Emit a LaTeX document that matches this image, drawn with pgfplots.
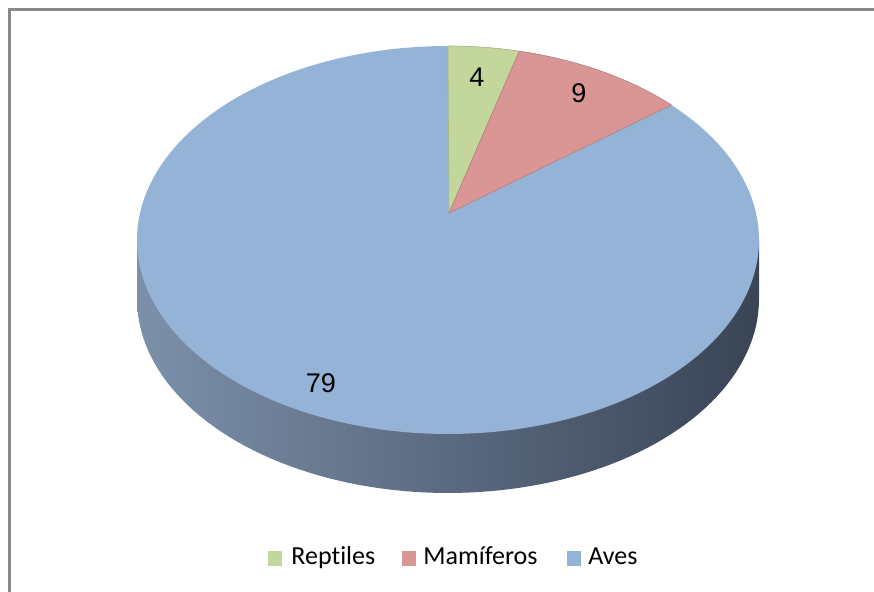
\documentclass[border=0pt]{standalone}
\usepackage{pgfplots}
\pgfplotsset{compat=1.18}
\usepackage{pgfplotstable}
\usepackage{fontspec}
\setmainfont{Carlito}[Ligatures=NoCommon]
\newfontfamily\arial{Liberation Sans}
\definecolor{rep}{HTML}{C3D69B}
\definecolor{mam}{HTML}{D99694}
\definecolor{ave}{HTML}{95B3D7}
\definecolor{framec}{HTML}{8A8A8A}
\definecolor{sideL}{HTML}{7D90AA}
\definecolor{sideM}{HTML}{48556A}
\definecolor{sideR}{HTML}{394455}

\pgfplotstableread{
label value
Reptiles 4
Mamíferos 9
Aves 79
}\piedata

\begin{document}
\begin{tikzpicture}
\pgfplotstablegetelem{0}{value}\of\piedata \pgfmathsetmacro\va{\pgfplotsretval}
\pgfplotstablegetelem{1}{value}\of\piedata \pgfmathsetmacro\vb{\pgfplotsretval}
\pgfplotstablegetelem{2}{value}\of\piedata \pgfmathsetmacro\vc{\pgfplotsretval}
\pgfmathsetmacro\tot{\va+\vb+\vc}
\pgfmathsetmacro\thA{90-360*\va/\tot}
\pgfmathsetmacro\thB{\thA-360*\vb/\tot}
\pgfmathsetmacro\tA{atan2(sin(\thA),0.84*cos(\thA))}
\pgfmathsetmacro\tB{atan2(sin(\thB),0.84*cos(\thB))}
\useasboundingbox (0,0) rectangle (437pt,296pt);
\begin{axis}[at={(0,0)}, anchor=south west, scale only axis,
  width=437pt, height=296pt,
  xmin=0, xmax=874, ymin=0, ymax=592, y dir=reverse,
  hide axis, clip=false]
% frame
\draw[framec, line width=1.3pt] (axis cs:9.5,592) -- (axis cs:9.5,9.5) -- (axis cs:874,9.5);
% side of cylinder
\addplot[draw=none, left color=sideL, middle color=sideM, right color=sideR,
  domain=0:360, samples=180, variable=\t]
  ({448+311*cos(t)},{299-194*sin(t)}) -- cycle
  (axis cs:137,240) rectangle (axis cs:759,299);
% top face (Aves)
\addplot[fill=ave, draw=none, domain=0:360, samples=240, variable=\t]
  ({448+311*cos(t)},{240-194*sin(t)}) -- cycle;
% Reptiles
\addplot[fill=rep, draw=rep!85!black, line width=0.3pt, domain=\tA:90, samples=40, variable=\t]
  ({448+311*cos(t)},{240-194*sin(t)}) -- (axis cs:449,213) -- cycle;
% Mamiferos
\addplot[fill=mam, draw=mam!85!black, line width=0.3pt, domain=\tB:\tA, samples=60, variable=\t]
  ({448+311*cos(t)},{240-194*sin(t)}) -- (axis cs:449,213) -- cycle;
% data labels
\node[font=\arial\fontsize{13.5}{15}\selectfont] at (axis cs:477,77) {4};
\node[font=\arial\fontsize{13.5}{15}\selectfont] at (axis cs:579,93) {9};
\node[font=\arial\fontsize{13.5}{15}\selectfont] at (axis cs:321,383) {79};
% legend
\fill[rep] (axis cs:268,551) rectangle (axis cs:282,566);
\node[anchor=base west, inner sep=0pt, font=\fontsize{13}{15}\selectfont] at (axis cs:291,565) {Reptiles};
\fill[mam] (axis cs:402,551) rectangle (axis cs:416,566);
\node[anchor=base west, inner sep=0pt, font=\fontsize{13}{15}\selectfont] at (axis cs:423,565) {Mamíferos};
\fill[ave] (axis cs:567,551) rectangle (axis cs:581,566);
\node[anchor=base west, inner sep=0pt, font=\fontsize{13}{15}\selectfont] at (axis cs:588,565) {Aves};
\end{axis}
\end{tikzpicture}
\end{document}
